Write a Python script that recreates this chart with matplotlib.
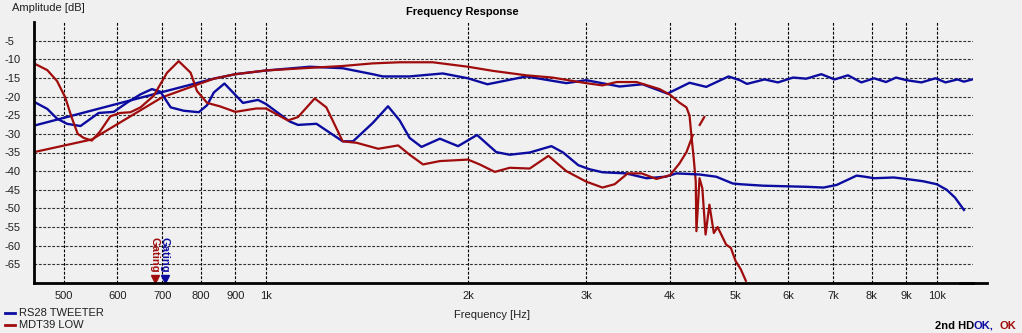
import numpy as np
import matplotlib
matplotlib.use("Agg")
import matplotlib.pyplot as plt
from matplotlib.lines import Line2D
from matplotlib.ticker import FixedLocator, NullLocator

plt.rcParams['font.family'] = ['Liberation Sans', 'DejaVu Sans']

# RS28 TWEETER - fundamental
tw_freq = [451, 700, 836, 900, 1000, 1162, 1301, 1442, 1493, 1636, 1834, 2000, 2138,
           2443, 2803, 3000, 3366, 3641, 3966, 4278, 4530, 4890, 5082, 5210, 5534,
           5795, 6103, 6385, 6724, 7040, 7368, 7715, 8060, 8395, 8690, 9000, 9480,
           9950, 10300, 10730, 10970, 11290]
tw_db = [-27.8, -18.8, -15.2, -14.0, -13.0, -12.0, -12.4, -14.0, -14.6, -14.6, -13.8, -15.1, -16.7,
         -14.6, -16.4, -15.6, -17.3, -16.7, -19.2, -16.3, -17.4, -14.6, -15.6, -16.6, -15.4,
         -16.2, -14.9, -15.2, -14.0, -15.4, -14.3, -16.2, -15.1, -16.1, -14.9, -15.6, -16.2,
         -15.1, -16.2, -15.4, -16.0, -15.4]

# RS28 TWEETER - 2nd HD
tw_hd_freq = [451, 472, 488, 505, 529, 563, 593, 621, 650, 676, 696, 721, 754, 794, 817,
              836, 867, 924, 973, 1000, 1085, 1116, 1189, 1301, 1348, 1442, 1520, 1582,
              1637, 1705, 1816, 1933, 2063, 2204, 2308, 2472, 2663, 2772, 2920, 3036,
              3173, 3440, 3690, 3940, 4090, 4427, 4690, 4960, 5082, 5506, 6385, 6776,
              7088, 7590, 7810, 8060, 8620, 9000, 9530, 9990, 10340, 10640, 10970]
tw_hd_db = [-21.4, -23.3, -25.9, -27.3, -27.9, -24.4, -24.1, -21.6, -19.4, -18.0, -18.7, -22.9, -23.8, -24.2, -22.3,
            -18.9, -16.5, -21.7, -20.9, -22.0, -26.7, -27.6, -27.3, -32.0, -32.0, -27.1, -22.6, -26.4,
            -31.1, -33.5, -31.3, -33.3, -30.3, -34.9, -35.6, -35.0, -33.3, -35.0, -38.4, -39.5,
            -40.3, -40.6, -41.9, -41.5, -40.6, -40.9, -41.5, -43.3, -43.5, -43.9, -44.2, -44.4,
            -43.7, -41.2, -41.5, -41.9, -41.7, -42.1, -42.7, -43.5, -45.0, -47.1, -50.4]

# MDT39 LOW - fundamental
low_freq = [451, 550, 700, 836, 900, 1000, 1162, 1301, 1442, 1582, 1772, 2000, 2177,
            2443, 2672, 3000, 3173, 3330, 3566, 3860, 4000, 4130, 4233, 4278, 4305,
            4340, 4370, 4380, 4427, 4470, 4520, 4580, 4650, 4710, 4770, 4850, 4930,
            5010, 5100, 5190]
low_db = [-34.9, -31.5, -20.2, -15.2, -14.0, -13.0, -12.3, -11.8, -11.1, -10.8, -10.8, -12.0, -13.1,
          -14.3, -14.9, -16.4, -17.0, -16.1, -16.1, -18.0, -19.5, -21.6, -22.9, -25.1, -30.4,
          -36.6, -42.7, -56.1, -41.9, -44.6, -57.0, -49.0, -56.6, -55.0, -57.0, -59.7, -60.6,
          -64.1, -66.3, -69.4]

# MDT39 LOW - 2nd HD
low_hd_freq = [451, 472, 488, 502, 513, 524, 535, 550, 565, 586, 606, 628, 650, 680, 712,
               741, 772, 789, 817, 853, 900, 967, 1000, 1078, 1116, 1182, 1230, 1301, 1365,
               1470, 1574, 1637, 1714, 1816, 2000, 2082, 2193, 2308, 2472, 2636, 2803, 3000,
               3173, 3309, 3460, 3630, 3818, 4000, 4130, 4233, 4325, 4380, 4430, 4500]
low_hd_db = [-11.1, -12.9, -15.8, -20.2, -25.5, -30.0, -31.1, -31.8, -29.5, -25.3, -24.4, -24.2, -22.9, -19.8, -13.6,
             -10.5, -13.6, -18.5, -21.7, -22.6, -24.1, -23.2, -23.2, -26.4, -25.5, -20.5, -22.9, -32.0, -32.4,
             -34.0, -33.1, -35.6, -38.2, -37.3, -36.9, -38.2, -40.2, -39.1, -39.3, -35.9, -40.0, -42.8,
             -44.4, -43.5, -40.6, -40.6, -42.1, -41.1, -38.0, -34.9, -30.4, np.nan, -27.6, -25.5]

x_ticks = [500, 600, 700, 800, 900, 1000, 2000, 3000, 4000, 5000, 6000, 7000, 8000, 9000, 10000]
x_labels = ['500', '600', '700', '800', '900', '1k', '2k', '3k', '4k', '5k', '6k', '7k', '8k', '9k', '10k']
y_ticks = [-5, -10, -15, -20, -25, -30, -35, -40, -45, -50, -55, -60, -65]

gate_low_hz = 683
gate_tw_hz = 706

BLUE = '#0c0ca0'
RED = '#a00c0c'
BG = '#f0f0f0'

W, H = 1022, 333
fig = plt.figure(figsize=(W / 100, H / 100), dpi=100, facecolor=BG)
ax = fig.add_axes([34 / W, 50 / H, (973 - 34) / W, (283 - 22) / H])
ax.set_facecolor(BG)

ax.set_xscale('log')
ax.set_xlim(451, 11317)
ax.set_ylim(-70, 0)

ax.plot(tw_freq, tw_db, color=BLUE, lw=1.7)
ax.plot(low_freq, low_db, color=RED, lw=1.6)
ax.plot(tw_hd_freq, tw_hd_db, color=BLUE, lw=1.7)
ax.plot(low_hd_freq, low_hd_db, color=RED, lw=1.6)

ax.xaxis.set_major_locator(FixedLocator(x_ticks))
ax.xaxis.set_minor_locator(NullLocator())
ax.set_xticklabels(x_labels)
ax.set_yticks(y_ticks)
ax.set_yticklabels([str(v) for v in y_ticks])
ax.tick_params(axis='both', length=0, labelsize=8, colors='#202020')
ax.tick_params(axis='x', pad=6)
ax.tick_params(axis='y', pad=21)
for lab in ax.get_yticklabels():
    lab.set_horizontalalignment('left')

ax.xaxis.grid(True, color='black', linestyle=(0, (2.5, 1.5)), lw=0.8)
ax.yaxis.grid(True, color='#303030', linestyle=(0, (2.5, 1.5)), lw=0.8)
ax.set_axisbelow(True)

for s in ['top', 'right']:
    ax.spines[s].set_visible(False)
ax.spines['left'].set_linewidth(2)
ax.spines['bottom'].set_linewidth(2)
fig.add_artist(Line2D([960 / W, 987 / W], [50 / H, 50 / H], color='black', lw=2))

# gating markers
for f, c in [(gate_low_hz, RED), (gate_tw_hz, BLUE)]:
    ax.plot([f], [-68.9], marker='v', color=c, ms=6, clip_on=False)
    ax.text(f, -62.5, 'Gating', rotation=-90, color=c, fontsize=8, fontweight='bold',
            ha='center', va='center')

fig.text(12 / W, 1 - 8 / H, 'Amplitude [dB]', fontsize=8, color='#202020', va='center')
fig.text(462 / W, 1 - 12 / H, 'Frequency Response', fontsize=8, fontweight='bold', ha='center', va='center')
fig.text(492 / W, 1 - 315 / H, 'Frequency [Hz]', fontsize=8, color='#202020', ha='center', va='center')

fig.add_artist(Line2D([5 / W, 15 / W], [1 - 313 / H] * 2, color=BLUE, lw=2))
fig.add_artist(Line2D([5 / W, 15 / W], [1 - 325 / H] * 2, color=RED, lw=2))
fig.text(19 / W, 1 - 313 / H, 'RS28 TWEETER', fontsize=8, color='#202020', va='center')
fig.text(19 / W, 1 - 325 / H, 'MDT39 LOW', fontsize=8, color='#202020', va='center')

base = 1 - 329 / H
fig.text(935 / W, base, '2nd HD', fontsize=8, fontweight='bold', va='baseline')
fig.text(973 / W, base, 'OK,', fontsize=8, color=BLUE, fontweight='bold', va='baseline')
fig.text(999 / W, base, 'OK', fontsize=8, color=RED, fontweight='bold', va='baseline')

fig.savefig('out.png', dpi=100, facecolor=BG)
